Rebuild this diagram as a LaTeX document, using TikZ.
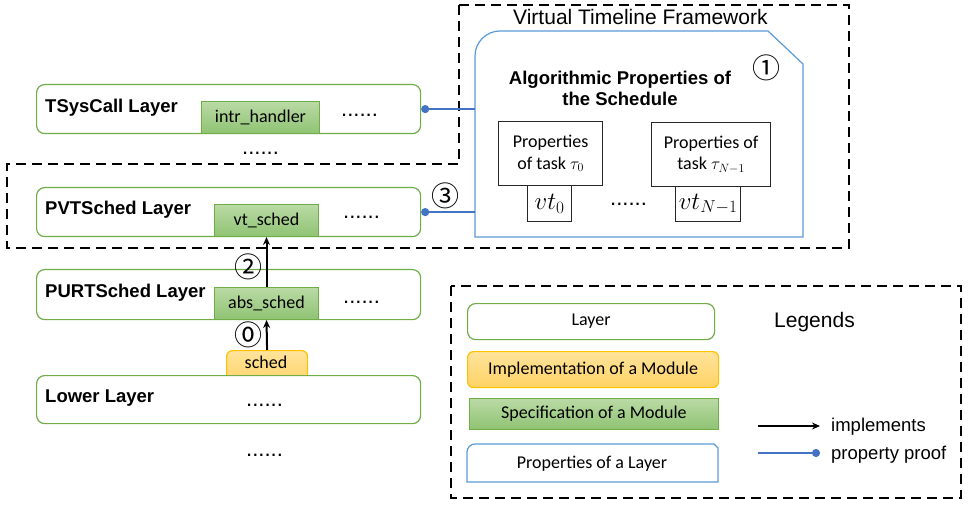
\documentclass[tikz,border=0pt]{standalone}
\usepackage{fontspec}
\setmainfont{Carlito}
\newfontfamily\arialf{Liberation Sans}
\newfontfamily\circf{Noto Sans CJK SC}
\usetikzlibrary{arrows.meta}
\definecolor{lgreen}{RGB}{112,173,71}
\definecolor{gtop}{RGB}{186,218,165}
\definecolor{gbot}{RGB}{143,195,115}
\definecolor{otop}{RGB}{255,228,156}
\definecolor{obot}{RGB}{255,210,100}
\definecolor{oborder}{RGB}{255,192,0}
\definecolor{pblue}{RGB}{91,155,213}
\definecolor{cblue}{RGB}{68,114,196}
\begin{document}
\begin{tikzpicture}[x=1pt,y=-1pt,
  layerbox/.style={draw=lgreen, line width=1.2pt, rounded corners=8pt, anchor=north west, inner sep=0pt, fill=white, minimum width=384pt},
  specbox/.style={draw=lgreen, line width=1pt, top color=gtop, bottom color=gbot, anchor=north west, inner sep=0pt, font=\fontsize{18}{20}\selectfont},
  implbox/.style={draw=oborder, line width=1.2pt, top color=otop, bottom color=obot, rounded corners=6pt, anchor=north west, inner sep=0pt},
  laylabel/.style={font=\arialf\bfseries\fontsize{18.5}{22}\selectfont, inner sep=0pt, anchor=base west},
  ctext/.style={font=\fontsize{18}{20}\selectfont, inner sep=0pt},
  dots/.style={font=\arialf\fontsize{22}{24}\selectfont, inner sep=0pt, anchor=base west},
  circnum/.style={font=\circf\fontsize{28}{30}\selectfont, inner sep=0pt},
  taskbox/.style={draw=black!85, line width=1.3pt, anchor=north west, inner sep=0pt, align=center, font=\fontsize{18}{21.5}\selectfont},
  vtbox/.style={draw=black!85, line width=1.3pt, anchor=north west, inner sep=0pt, font=\fontsize{25}{27}\selectfont},
  frame/.style={draw=black, line width=2pt, dash pattern=on 10pt off 6pt},
  impl/.style={draw=black, line width=2pt, -{Stealth[length=8pt,width=7pt]}},
  proof/.style={draw=cblue, line width=2.5pt},
  propshape/.style={draw=pblue, line width=1.2pt, fill=white}
]
\useasboundingbox (0,0) rectangle (975,505);

% outer dashed frame of the framework
\draw[frame] (459,5) -- (849,5) -- (849,248) -- (7,248) -- (7,164) -- (459,164) -- cycle;
\node[font=\arialf\fontsize{21}{24}\selectfont, inner sep=0pt, anchor=base west] (vtf) at (513,25) {Virtual Timeline Framework};

% properties shape
\draw[propshape] (475,237) -- (475,56) arc[start angle=180, end angle=270, radius=25] -- (768,31) -- (803,64) -- (803,237) -- cycle;
\coordinate (propleft) at (475,150);
\node[font=\arialf\bfseries\fontsize{18.5}{21}\selectfont, align=center, inner sep=0pt] (algo) at (620,88) {Algorithmic Properties of\\the Schedule};
\node[circnum] (c1) at (766,68) {①};

\node[taskbox, minimum width=104pt, minimum height=64pt] (t0) at (498,121) {Properties\\of task $\tau_0$};
\node[taskbox, minimum width=119pt, minimum height=64pt] (tN) at (651,122) {Properties of\\task $\tau_{N-1}$};
\node[vtbox, minimum width=44pt, minimum height=36pt] (vt0) at (527,185) {$vt_0$};
\node[vtbox, minimum width=65pt, minimum height=35pt] (vtN) at (675,186) {$vt_{N-1}$};
\node[dots] (d4) at (610,206) {......};

% layers
\node[layerbox, minimum height=49pt] (tsys) at (36,84) {};
\node[laylabel] (tsysl) at (45,113) {TSysCall Layer};
\node[specbox, minimum width=118pt, minimum height=32pt] (intr) at (201,101) {intr\_handler};
\node[dots] (d1) at (341,117) {......};
\node[dots] (d2) at (242,155) {......};

\node[layerbox, minimum height=49pt] (pvt) at (36,187) {};
\node[laylabel] (pvtl) at (45,215) {PVTSched Layer};
\node[specbox, minimum width=104pt, minimum height=32pt] (vts) at (214,204) {vt\_sched};
\node[dots] (d3) at (343,219) {......};

\node[layerbox, minimum height=50pt] (purt) at (36,269) {};
\node[laylabel] (purtl) at (45,298) {PURTSched Layer};
\node[specbox, minimum width=104pt, minimum height=32pt] (abs) at (214,287) {abs\_sched};
\node[dots] (d5) at (343,303) {......};

\node[implbox, minimum width=81pt, minimum height=36pt] (schedbox) at (226,350) {};
\node[ctext] (sched) at (266,362) {sched};
\node[layerbox, minimum height=48pt] (lower) at (36,375) {};
\node[laylabel] (lowerl) at (45,402) {Lower Layer};
\node[dots] (d6) at (246,406) {......};
\node[dots] (d7) at (246,456) {......};

% connectors
\draw[impl] (schedbox.north) -- (abs.south);
\draw[impl] (abs.north) -- (vts.south);
\node[circnum] (c0) at (248,335) {⓪};
\node[circnum] (c2) at (248,267) {②};
\draw[proof, {Circle[length=8pt]}-] (tsys.east) -- (tsys.east -| propleft);
\draw[proof, {Circle[length=8pt]}-] (pvt.east) -- (pvt.east -| propleft);
\node[circnum] (c3) at (445,196) {③};

% legend
\draw[frame] (451,286) rectangle (961,498);
\node[layerbox, minimum width=247pt, minimum height=36pt, font=\fontsize{18}{20}\selectfont] (lg1) at (467,303) {Layer};
\node[implbox, minimum width=251pt, minimum height=36pt, font=\fontsize{18}{20}\selectfont] (lg2) at (467,351) {Implementation of a Module};
\node[specbox, minimum width=249pt, minimum height=31pt] (lg3) at (469,398) {Specification of a Module};
\draw[propshape] (467,482) -- (467,452) arc[start angle=180, end angle=270, radius=8] -- (714,444) -- (718,448) -- (718,482) -- cycle;
\node[ctext] (lg4) at (592,464) {Properties of a Layer};
\node[font=\arialf\fontsize{21}{24}\selectfont, inner sep=0pt, anchor=base west] (leg) at (774,327) {Legends};
\coordinate (ia) at (758,426);
\coordinate (ib) at (820,426);
\draw[impl] (ia) -- (ib);
\node[font=\arialf\fontsize{18.5}{22}\selectfont, inner sep=0pt, anchor=base west] (impt) at (831,431) {implements};
\coordinate (pa) at (758,453);
\coordinate (pb) at (820,453);
\draw[proof, -{Circle[length=8pt]}] (pa) -- (pb);
\node[font=\arialf\fontsize{18.5}{22}\selectfont, inner sep=0pt, anchor=base west] (ppt) at (831,459) {property proof};
\end{tikzpicture}
\end{document}
